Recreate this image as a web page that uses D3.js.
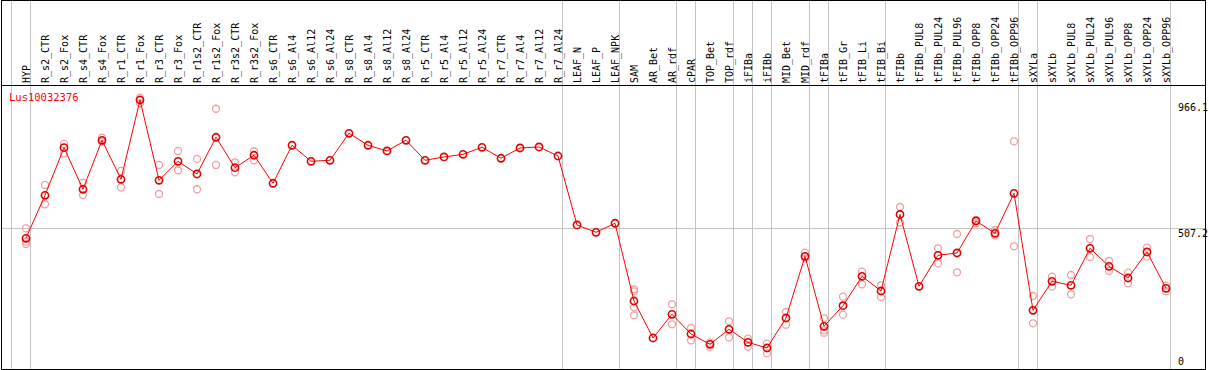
<!DOCTYPE html>
<html><head><meta charset="utf-8">
<script src="https://cdn.jsdelivr.net/npm/d3@7"></script>
<style>body{margin:0;background:#fff;} svg{display:block;}</style>
</head><body>
<svg id="c" width="1209" height="370"></svg>
<script>
const categories = ["HYP","R_s2_CTR","R_s2_Fox","R_s4_CTR","R_s4_Fox","R_r1_CTR","R_r1_Fox","R_r3_CTR","R_r3_Fox","R_r1s2_CTR","R_r1s2_Fox","R_r3s2_CTR","R_r3s2_Fox","R_s6_CTR","R_s6_Al4","R_s6_Al12","R_s6_Al24","R_s8_CTR","R_s8_Al4","R_s8_Al12","R_s8_Al24","R_r5_CTR","R_r5_Al4","R_r5_Al12","R_r5_Al24","R_r7_CTR","R_r7_Al4","R_r7_Al12","R_r7_Al24","LEAF_N","LEAF_P","LEAF_NPK","SAM","AR_Bet","AR_rdf","cPAR","TOP_Bet","TOP_rdf","iFIBa","iFIBb","MID_Bet","MID_rdf","tFIBa","tFIB_Gr","tFIB_Li","tFIB_Bi","tFIBb","tFIBb_PUL8","tFIBb_PUL24","tFIBb_PUL96","tFIBb_OPP8","tFIBb_OPP24","tFIBb_OPP96","sXYLa","sXYLb","sXYLb_PUL8","sXYLb_PUL24","sXYLb_PUL96","sXYLb_OPP8","sXYLb_OPP24","sXYLb_OPP96"];
const meanValues = [470.4,624.5,795.2,646.1,821.7,681.9,966.1,678.3,746.4,700.9,832.5,723.5,768.0,667.6,803.8,746.4,750.0,846.8,803.8,783.4,821.7,750.0,761.9,771.5,796.6,757.2,794.1,797.7,765.4,518.1,491.9,524.2,245.6,112.9,197.9,127.3,90.3,144.1,97.5,77.1,184.6,405.8,154.9,228.7,334.1,281.4,555.7,298.3,409.4,417.7,532.4,488.3,631.7,212.2,316.2,301.9,434.5,370.0,328.0,421.3,291.1];
const replicateValues = [[506.2,458.2,449.9],[661.5,592.3],[808.5,775.1],[669.7,625.6],[831.1,816.7],[711.7,653.2],[974.5,954.4],[733.2,629.2],[783.4,714.2],[754.9,646.1],[934.7,733.2],[742.8,707.0],[782.3,750.0],[],[],[],[],[],[],[],[],[],[],[],[],[],[],[],[],[],[],[],[287.5,280.4,223.0,194.3],[],[233.8,162.1],[148.8,104.7],[96.1,81.7],[172.8,115.4],[110.4,81.7],[92.5,58.1],[206.1,160.6],[418.7,398.7],[183.6,131.9,140.5],[261.0,196.5],[350.6,305.5],[301.9,259.9],[582.6,527.0],[],[434.5,380.7],[485.8,348.5],[536.0,524.2],[500.1,481.1],[818.1,441.7],[263.5,165.6],[332.7,296.9],[338.8,269.6],[467.9,403.3],[389.0,353.1],[347.0,309.0],[436.7,404.4],[300.4,280.4]];
const tickValues = [0, 507.2, 966.1];
const refLine = 507.2;
const groupEnds = [-1, 0, 28, 31, 34, 35, 37, 38, 39, 41, 42, 45, 52, 53, 60];
const geneName = "Lus10032376";

const svg = d3.select("#c");
const fLeft = 1.5, fRight = 1205.5, fTop = 0.5, fBottom = 369.5, headerY = 85.5;
const x = d3.scalePoint().domain(categories).range([26, 1166]);
const step = x.step();
const y = d3.scaleLinear().domain([0, 966.1]).range([369.5, 100]);
const font = "'DejaVu Sans Mono', monospace";

const gx = d => Math.round((d < 0 ? x(categories[0]) - step : x(categories[d])) + 4) + 0.5;
// gridlines
svg.append("g").selectAll("line").data(groupEnds).join("line")
  .attr("x1", gx).attr("x2", gx)
  .attr("y1", 0).attr("y2", fBottom)
  .attr("stroke", "#c4c4c4").attr("stroke-width", 1);
svg.append("line").attr("x1", fLeft).attr("x2", fRight)
  .attr("y1", Math.round(y(refLine)) + 0.5).attr("y2", Math.round(y(refLine)) + 0.5)
  .attr("stroke", "#c4c4c4").attr("stroke-width", 1);

// frame
svg.append("rect").attr("x", fLeft).attr("y", fTop).attr("width", fRight - fLeft).attr("height", fBottom - fTop)
  .attr("fill", "none").attr("stroke", "#000").attr("stroke-width", 1);
svg.append("line").attr("x1", fLeft).attr("x2", fRight).attr("y1", headerY).attr("y2", headerY)
  .attr("stroke", "#000").attr("stroke-width", 1);

// category labels
svg.append("g").selectAll("text").data(categories).join("text")
  .attr("transform", d => `translate(${x(d) + 1},83) rotate(-90)`)
  .attr("dominant-baseline", "middle")
  .attr("font-family", font).attr("font-size", 10).attr("fill", "#000")
  .text(d => d);

// right axis labels
svg.append("g").selectAll("text").data(tickValues).join("text")
  .attr("x", 1178)
  .attr("y", d => d === 0 ? 365 : y(d) + (d === 966.1 ? 11 : 9))
  .attr("font-family", font).attr("font-size", 10).attr("fill", "#000")
  .text(d => d === 0 ? "0" : d.toFixed(1));

// gene label
svg.append("text").attr("x", 9).attr("y", 101).attr("font-family", font).attr("font-size", 10.5)
  .attr("fill", "#ff0000").text(geneName);

// replicates
const reps = [];
replicateValues.forEach((arr, i) => arr.forEach(v => reps.push({c: categories[i], v})));
svg.append("g").selectAll("circle").data(reps).join("circle")
  .attr("cx", d => x(d.c)).attr("cy", d => y(d.v)).attr("r", 3.5)
  .attr("fill", "none").attr("stroke", "#f0a0a0").attr("stroke-width", 1.3);

// line
const pts = categories.map((c, i) => [x(c), y(meanValues[i])]);
svg.append("path").attr("d", d3.line()(pts)).attr("fill", "none").attr("stroke", "#ff0000").attr("stroke-width", 1);

// mean markers
svg.append("g").selectAll("circle").data(pts).join("circle")
  .attr("cx", d => d[0]).attr("cy", d => d[1]).attr("r", 3.6)
  .attr("fill", "none").attr("stroke", "#e00000").attr("stroke-width", 1.6);
</script>
</body></html>
